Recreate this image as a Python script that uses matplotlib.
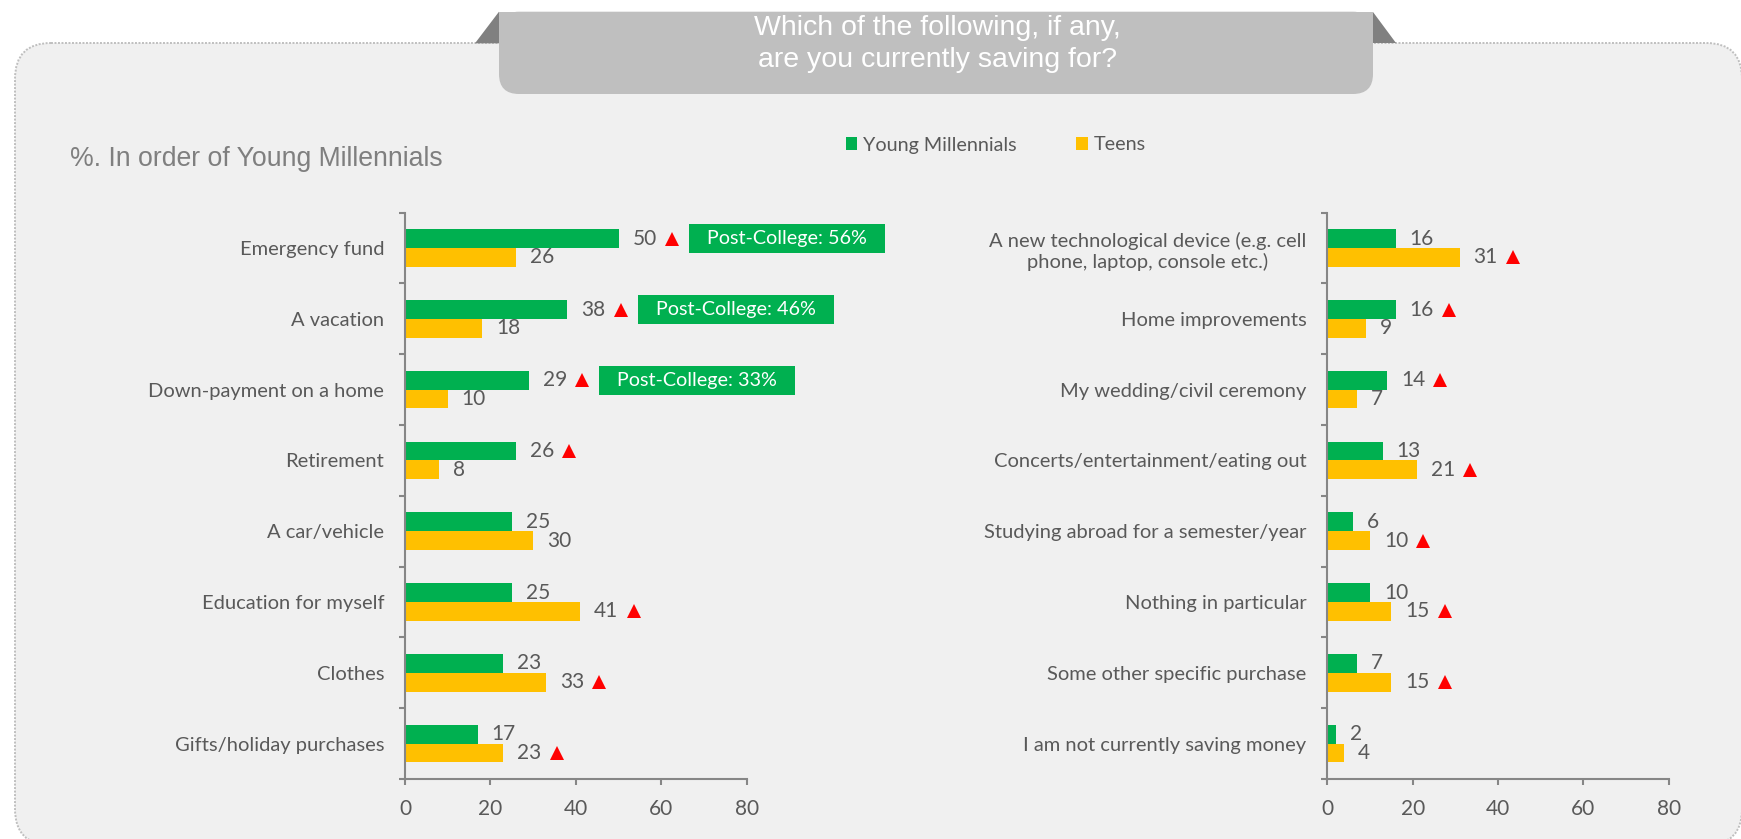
import matplotlib
matplotlib.use("Agg")
import matplotlib.pyplot as plt
from matplotlib.patches import FancyBboxPatch, Rectangle, Polygon
import numpy as np

# survey answers, left block (sorted by Young Millennials)
left_categories = ["Emergency fund", "A vacation", "Down-payment on a home", "Retirement",
                   "A car/vehicle", "Education for myself", "Clothes", "Gifts/holiday purchases"]
left_ym = [50, 38, 29, 26, 25, 25, 23, 17]
left_teens = [26, 18, 10, 8, 30, 41, 33, 23]
left_flags = ["ym", "ym", "ym", "ym", None, "teens", "teens", "teens"]
post_college = [56, 46, 33]

# right block
right_categories = ["A new technological device (e.g. cell\nphone, laptop, console etc.)",
                    "Home improvements", "My wedding/civil ceremony",
                    "Concerts/entertainment/eating out", "Studying abroad for a semester/year",
                    "Nothing in particular", "Some other specific purchase",
                    "I am not currently saving money"]
right_ym = [16, 16, 14, 13, 6, 10, 7, 2]
right_teens = [31, 9, 7, 21, 10, 15, 15, 4]
right_flags = ["teens", "ym", "ym", "teens", "teens", "teens", "teens", None]

x_ticks = [0, 20, 40, 60, 80]
series_names = ["Young Millennials", "Teens"]

GREEN = "#00B050"
ORANGE = "#FFC000"
RED = "#FF0000"
TEXT = "#595959"
SPINE = "#868686"
PANEL = "#F0F0F0"
BAR_H = 0.265
TRI_OFF = 12.5
FS = 14.5

plt.rcParams["font.family"] = ["Lato", "DejaVu Sans"]

W, H = 1741, 839
fig = plt.figure(figsize=(W / 100, H / 100), dpi=100, facecolor="white")

# background panel and header tab, drawn in pixel units
bg = fig.add_axes([0, 0, 1, 1], zorder=0)
bg.set_xlim(0, W)
bg.set_ylim(H, 0)
bg.axis("off")
bg.add_patch(FancyBboxPatch((15, 43), 1742 - 15, 845 - 43,
                            boxstyle="round,pad=0,rounding_size=36",
                            fc=PANEL, ec="#BFBFBF", lw=1.4, ls=(0, (1, 0.8))))
bg.add_patch(Polygon([(475, 43.3), (499, 11.7), (499, 43.3)], closed=True, fc="#808080", ec="none"))
bg.add_patch(Polygon([(1373, 11.7), (1373, 43.3), (1396, 43.3)], closed=True, fc="#808080", ec="none"))
bg.add_patch(FancyBboxPatch((499, 11.7), 874, 82.3, boxstyle="round,pad=0,rounding_size=20",
                            fc="#BFBFBF", ec="none"))
bg.add_patch(Rectangle((499, 11.7), 874, 40, fc="#BFBFBF", ec="none"))
bg.text(937, 28, "Which of the following, if any,", ha="center", va="center",
        color="white", fontsize=20.5, family="Liberation Sans")
bg.text(937, 60, "are you currently saving for?", ha="center", va="center",
        color="white", fontsize=20.5, family="Liberation Sans")
bg.text(70, 159, "%. In order of Young Millennials", ha="left", va="center",
        color="#7F7F7F", fontsize=19.2, family="Liberation Sans")


def draw_chart(rect, cats, ym, teens, flags, boxes=()):
    ax = fig.add_axes(rect, zorder=1)
    ax.patch.set_visible(False)
    y = np.arange(len(cats))
    b1 = ax.barh(y - BAR_H / 2, ym, height=BAR_H, color=GREEN)
    b2 = ax.barh(y + BAR_H / 2, teens, height=BAR_H, color=ORANGE)

    for bars, vals, key in ((b1, ym, "ym"), (b2, teens, "teens")):
        for bar, v, f in zip(bars, vals, flags):
            yc = bar.get_y() + bar.get_height() / 2
            ax.annotate(f"{v}", (v, yc), xytext=(10, 0), textcoords="offset points",
                        ha="left", va="center", color=TEXT, fontsize=15)
            if f == key:
                ax.plot(v + TRI_OFF, yc, marker="^", ms=10, mew=0, color=RED, clip_on=False)

    # green call-out boxes next to the first rows
    for bar, v, pc in zip(b1, ym, boxes):
        yc = bar.get_y() + bar.get_height() / 2
        ax.add_patch(Rectangle((v + 16.5, yc - 0.205), 45.9, 0.41, fc=GREEN, ec="none", clip_on=False))
        ax.text(v + 16.5 + 45.9 / 2, yc, f"Post-College: {pc}%", ha="center", va="center",
                color="white", fontsize=14.2, clip_on=False)

    ax.set_xlim(0, 80)
    ax.set_ylim(len(cats) - 0.5, -0.5)
    ax.set_xticks(x_ticks)
    ax.set_yticks(y)
    ax.set_yticklabels(cats)
    ax.set_yticks(np.arange(len(cats) + 1) - 0.5, minor=True)
    ax.tick_params(axis="y", which="major", length=0, pad=15, labelcolor=TEXT, labelsize=FS)
    ax.tick_params(axis="y", which="minor", length=4.5, width=1.5, color=SPINE, direction="out")
    ax.tick_params(axis="x", length=4.5, width=1.5, color=SPINE, pad=10, labelcolor=TEXT, labelsize=15)
    for lbl in ax.get_yticklabels():
        lbl.set_multialignment("center")
        lbl.set_linespacing(1.25)
    for s in ("top", "right"):
        ax.spines[s].set_visible(False)
    for s in ("left", "bottom"):
        ax.spines[s].set_color(SPINE)
        ax.spines[s].set_linewidth(1.5)
    return ax, b1, b2


ax_l, b1, b2 = draw_chart([405 / W, 1 - 779 / H, 341.7 / W, 566.3 / H],
                          left_categories, left_ym, left_teens, left_flags, post_college)
ax_r, _, _ = draw_chart([1327.3 / W, 1 - 779 / H, 341.4 / W, 566.3 / H],
                        right_categories, right_ym, right_teens, right_flags)

fig.legend([b1, b2], series_names, loc="center left", bbox_to_anchor=(846 / W, 1 - 145 / H),
           ncol=2, frameon=False, fontsize=14.2, labelcolor=TEXT, handlelength=0.58,
           handleheight=0.58, handletextpad=0.3, columnspacing=3.0, borderpad=0, borderaxespad=0)

fig.savefig("out.png", dpi=100, facecolor="white")
